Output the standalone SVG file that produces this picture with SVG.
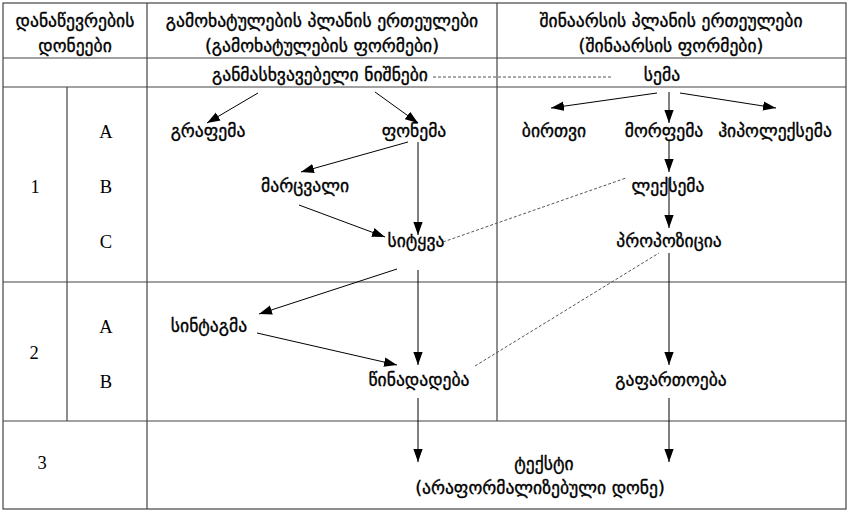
<svg xmlns="http://www.w3.org/2000/svg" width="848" height="510" viewBox="0 0 848 510">
<defs>
<marker id="ah" viewBox="0 0 14 10" refX="14" refY="5" markerWidth="13" markerHeight="10" markerUnits="userSpaceOnUse" orient="auto">
<path d="M0,0 L14,5 L0,10 Z" fill="#000"/>
</marker>
</defs>
<style>
.grid{stroke:#444;stroke-width:1.2;fill:none}
.ka{font-family:"DejaVu Sans",sans-serif;font-size:17.6px;fill:#000;stroke:#000;stroke-width:0.35;text-anchor:middle}
.lat{font-family:"Liberation Serif",serif;font-size:18.5px;fill:#000;text-anchor:middle}
.arr{stroke:#000;stroke-width:1;fill:none;marker-end:url(#ah)}
.dash{stroke:#555;stroke-width:1;fill:none;stroke-dasharray:3,2}
</style>
<rect width="848" height="510" fill="#fff"/>
<g id="table">
<rect class="grid" x="3" y="3" width="843" height="506"/>
<line class="grid" x1="3" y1="58" x2="846" y2="58"/>
<line class="grid" x1="3" y1="87" x2="846" y2="87"/>
<line class="grid" x1="3" y1="282" x2="846" y2="282"/>
<line class="grid" x1="3" y1="421" x2="846" y2="421"/>
<line class="grid" x1="147" y1="3" x2="147" y2="509"/>
<line class="grid" x1="497" y1="3" x2="497" y2="421"/>
<line class="grid" x1="67" y1="87" x2="67" y2="421"/>
</g>
<g id="headers">
<text class="ka" x="75" y="27">დანაწევრების</text>
<text class="ka" x="75" y="52">დონეები</text>
<text class="ka" x="322" y="27">გამოხატულების პლანის ერთეულები</text>
<text class="ka" x="322" y="52">(გამოხატულების ფორმები)</text>
<text class="ka" x="671" y="27">შინაარსის პლანის ერთეულები</text>
<text class="ka" x="671" y="52">(შინაარსის ფორმები)</text>
</g>
<g id="levels">
<text class="lat" x="35" y="193">1</text>
<text class="lat" x="106" y="138">A</text>
<text class="lat" x="106" y="193">B</text>
<text class="lat" x="106" y="248">C</text>
<text class="lat" x="34" y="359">2</text>
<text class="lat" x="106" y="333">A</text>
<text class="lat" x="106" y="388">B</text>
<text class="lat" x="42" y="469">3</text>
</g>
<g id="n-nishnebi"><text class="ka" x="320" y="81">განმასხვავებელი ნიშნები</text></g>
<g id="n-sema"><text class="ka" x="662" y="81">სემა</text></g>
<g id="n-grafema"><text class="ka" x="208" y="137">გრაფემა</text></g>
<g id="n-fonema"><text class="ka" x="414" y="137">ფონემა</text></g>
<g id="n-marcvali"><text class="ka" x="305" y="192">მარცვალი</text></g>
<g id="n-sitkva"><text class="ka" x="416" y="247">სიტყვა</text></g>
<g id="n-sintagma"><text class="ka" x="209" y="332">სინტაგმა</text></g>
<g id="n-tsinadadeba"><text class="ka" x="419" y="386">წინადადება</text></g>
<g id="n-birtvi"><text class="ka" x="554" y="137">ბირთვი</text></g>
<g id="n-morfema"><text class="ka" x="664" y="137">მორფემა</text></g>
<g id="n-hipoleksema"><text class="ka" x="775" y="137">ჰიპოლექსემა</text></g>
<g id="n-leksema"><text class="ka" x="668" y="192">ლექსემა</text></g>
<g id="n-propozicia"><text class="ka" x="669" y="247">პროპოზიცია</text></g>
<g id="n-gafartoeba"><text class="ka" x="671" y="386">გაფართოება</text></g>
<g id="n-teksti">
<text class="ka" x="544" y="470">ტექსტი</text>
<text class="ka" x="540" y="494">(არაფორმალიზებული დონე)</text>
</g>
<g id="connectors">
<line class="dash" x1="433" y1="77" x2="612" y2="77"/>
<line class="arr" x1="258" y1="93" x2="207" y2="123"/>
<line class="arr" x1="375" y1="92" x2="418" y2="123"/>
<line class="arr" x1="408" y1="142" x2="301" y2="172"/>
<line class="arr" x1="418" y1="142" x2="418" y2="235"/>
<line class="arr" x1="299" y1="205" x2="385" y2="237"/>
<line class="dash" x1="443" y1="242" x2="626" y2="178"/>
<line class="arr" x1="397" y1="269" x2="259" y2="314"/>
<line class="arr" x1="418" y1="270" x2="418" y2="365"/>
<line class="arr" x1="257" y1="333" x2="397" y2="365"/>
<line class="arr" x1="418" y1="398" x2="418" y2="462"/>
<line class="dash" x1="475" y1="366" x2="659" y2="253"/>
<line class="arr" x1="657" y1="93" x2="551" y2="108"/>
<line class="arr" x1="669" y1="92" x2="669" y2="123"/>
<line class="arr" x1="680" y1="93" x2="776" y2="108"/>
<line class="arr" x1="669" y1="140" x2="669" y2="172"/>
<line class="arr" x1="669" y1="178" x2="669" y2="228"/>
<line class="arr" x1="669" y1="253" x2="669" y2="365"/>
<line class="arr" x1="669" y1="398" x2="669" y2="462"/>
</g>
</svg>
